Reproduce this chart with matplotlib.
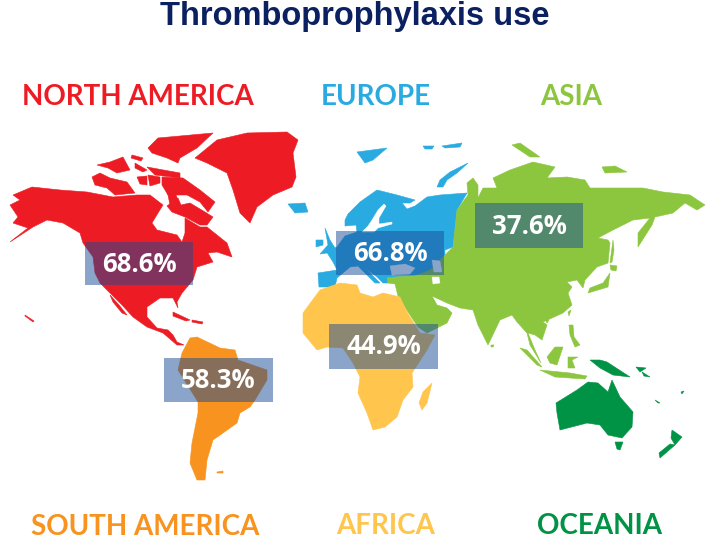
import matplotlib
matplotlib.use("Agg")
import matplotlib.pyplot as plt
from matplotlib.patches import Polygon, Rectangle

title = "Thromboprophylaxis use"
region_names = ["NORTH AMERICA", "EUROPE", "ASIA", "SOUTH AMERICA", "AFRICA", "OCEANIA"]
region_colors = ["#ED1C24", "#29ABE2", "#8CC63F", "#F7931E", "#FFC54D", "#009245"]
region_label_xy = [(138, 105), (376, 105), (571, 105), (145, 535), (386, 534), (599, 534)]
percent_labels = ["68.6%", "66.8%", "37.6%", "58.3%", "44.9%"]
percent_boxes = [(85, 242, 108, 43), (336, 231, 108, 44), (475, 203, 108, 45), (164, 358, 109, 44), (329, 324, 109, 45)]

north_america = [
    [(32,187),(60,190),(87,192),(113,197),(137,195),(150,195),(163,205),(158,213),(152,223),(157,230),(177,235),(182,242),(185,233),(185,218),
     (200,227),(207,227),(227,243),(232,257),(217,252),(208,253),(213,262),(197,267),(193,280),(182,293),(177,302),(178,308),(173,298),
     (160,298),(147,307),(147,317),(157,328),(168,330),(173,335),(177,342),(184,345),(177,345),(163,333),(147,327),(133,317),(122,305),
     (110,293),(100,283),(95,273),(93,257),(83,243),(80,233),(63,223),(47,220),(33,227),(10,242),(28,228),(13,223),(18,217),(10,205),(20,200),(13,195)],
    [(167,206),(178,198),(181,205),(190,203),(205,212),(213,217),(207,225),(200,225),(185,217),(172,212)],
    [(195,158),(217,140),(247,133),(287,132),(298,140),(293,153),(296,177),(292,187),(273,195),(257,207),(250,223),(240,213),(233,190),(227,173),(207,163)],
    [(162,177),(183,178),(200,190),(215,202),(208,212),(200,202),(187,195),(168,195),(162,185)],
    [(158,138),(213,133),(197,148),(180,158),(178,163),(167,158),(152,153),(148,148)],
    [(92,177),(100,173),(110,178),(127,182),(135,193),(115,195),(107,188),(95,185)],
    [(97,165),(110,162),(123,157),(130,170),(117,173),(108,168)],
    [(132,155),(143,158),(141,161),(131,158)],
    [(135,163),(147,170),(143,172),(135,168)],
    [(147,167),(180,173),(180,178),(155,175)],
    [(137,177),(147,176),(147,185),(140,184)],
    [(148,175),(160,177),(160,183),(150,186)],
    [(167,190),(174,190),(178,200),(170,205)],
    [(110,295),(119,305),(127,315),(122,313),(113,302)],
    [(173,312),(190,320),(186,321),(173,316)],
    [(192,320),(203,322),(202,324),(192,322)],
    [(25,315),(34,321),(33,322),(25,316)],
]
south_america = [
    [(190,338),(197,337),(220,348),(235,350),(238,360),(267,370),(267,380),(255,400),(250,407),(240,413),(237,423),(223,433),(213,440),
     (207,460),(205,480),(197,480),(190,463),(192,443),(198,413),(198,402),(178,370),(182,353)],
    [(217,472),(223,471),(223,473),(217,473)],
]
europe = [
    [(319,287),(318,273),(337,270),(333,262),(326,251),(337,247),(345,236),(357,232),(356,225),(345,226),(345,220),(348,214),(360,202),
     (377,190),(397,195),(415,200),(410,203),(402,203),(407,209),(415,206),(427,197),(440,195),(467,193),(457,210),(453,247),(445,250),
     (445,275),(415,276),(395,277),(388,283),(383,283),(377,277),(365,268),(380,283),(375,283),(358,266),(350,267),(337,278),(335,287)],
    [(288,204),(305,203),(308,212),(295,213)],
    [(325,228),(330,240),(335,248),(334,252),(320,254),(328,245)],
    [(316,240),(323,240),(323,245),(316,247)],
    [(357,152),(387,148),(373,160),(365,163)],
    [(468,163),(450,172),(440,180),(437,187),(443,187),(447,180),(457,173)],
    [(423,146),(434,146),(432,149),(425,149)],[(442,146),(462,143),(460,147),(445,148)],
]
asia = [
    [(468,195),(467,183),(473,178),(478,185),(478,198),(483,188),(497,188),(493,178),(510,170),(533,162),(555,167),(547,178),(567,177),
     (585,180),(590,188),(623,188),(643,188),(663,192),(690,195),(705,205),(697,210),(685,203),(673,213),(655,217),(652,225),(638,247),(638,233),
     (650,218),(633,220),(613,230),(598,238),(608,240),(610,243),(608,263),(597,267),(585,280),(583,288),(577,280),(567,282),(572,287),(568,293),
     (572,305),(563,313),(543,322),(547,325),(542,340),(535,335),(528,333),(535,350),(541,363),(530,345),(527,333),(517,322),(512,315),(500,320),(488,345),
     (478,325),(473,310),(460,308),(447,303),(432,296),(437,305),(447,308),(452,313),(447,323),(427,333),(418,327),(408,312),(398,296),(395,284),
     (388,283),(387,278),(395,277),(415,276),(430,270),(445,255),(453,247),(457,210)],
    [(520,348),(527,350),(542,367),(537,365)],
    [(540,370),(570,373),(587,376),(585,379),(555,377)],
    [(547,357),(555,347),(563,347),(557,365),(550,363)],
    [(568,357),(578,357),(572,360),(575,368),(568,368)],
    [(569,325),(573,325),(574,337),(580,345),(575,347),(570,335)],
    [(491,345),(494,345),(493,347),(491,347)],
    [(610,273),(608,287),(588,293),(590,288),(603,283)],
    [(610,265),(617,266),(616,271),(611,270)],
    [(613,240),(614,250),(612,262),(610,263)],
    [(512,145),(520,143),(540,157),(530,157)],
    [(602,167),(615,166),(627,172),(605,173)],
    [(571,310),(569,316),(568,312)],
    [(545,319),(549,320),(547,323)],
]
africa = [
    [(303,313),(320,290),(340,283),(357,285),(360,293),(373,297),(383,293),(400,297),(407,312),(420,333),(435,335),(427,350),(412,373),
     (413,387),(403,400),(397,417),(385,427),(373,430),(367,413),(358,393),(360,377),(353,363),(343,348),(327,347),(317,350),(303,333)],
    [(432,383),(427,403),(422,410),(419,403),(423,392)],
]
oceania = [
    [(556,403),(577,390),(588,382),(598,383),(608,392),(612,380),(620,397),(633,412),(632,427),(622,438),(608,435),(600,425),(587,423),(560,430),(557,413)],
    [(615,442),(623,442),(620,450),(617,449)],
    [(590,360),(600,360),(607,362),(630,377),(613,375),(600,368)],
    [(672,430),(682,437),(675,445),(671,438)],
    [(675,445),(660,458),(659,453),(670,444)],
    [(655,400),(660,403),(658,403)],[(681,392),(684,391),(682,394)],
    [(636,367),(646,368),(640,372)],[(642,372),(650,377),(644,376)],
]
seas = [
    [(384,204),(386,206),(379,218),(379,224),(392,222),(392,224),(378,228),(374,232),(362,232),(368,226),(372,220),(378,210)],
    [(390,266),(405,264),(415,268),(410,274),(392,275)],
    [(432,260),(440,261),(442,272),(434,272)],
    [(432,277),(439,277),(440,283),(433,284)],
]
percent_font = "Open Sans"

fig = plt.figure(figsize=(7.09, 5.40), dpi=100)
ax = fig.add_axes([0, 0, 1, 1])
ax.set_xlim(0, 709)
ax.set_ylim(540, 0)
ax.axis("off")

continents = [north_america, europe, asia, south_america, africa, oceania]
for shapes, color in zip(continents, region_colors):
    for pts in shapes:
        ax.add_patch(Polygon(pts, closed=True, fc=color, ec=color, lw=0.4, zorder=2))
for pts in seas:
    ax.add_patch(Polygon(pts, closed=True, fc="white", ec="white", lw=0.3, zorder=3))

for (x, y, w, h), lab in zip(percent_boxes, percent_labels):
    ax.add_patch(Rectangle((x, y), w, h, fc="#194B97", ec="none", alpha=0.5, zorder=4))
    ax.text(x + w / 2, y + h / 2 + 0.5, lab, color="white", fontsize=18.5, fontweight="bold",
            family=percent_font, ha="center", va="center", zorder=5)

for (x, y), name, color in zip(region_label_xy, region_names, region_colors):
    ax.text(x, y, name, color=color, fontsize=20, fontweight="bold", family="Lato",
            ha="center", va="baseline", zorder=5)

ax.text(355, 25, title, color="#0A2060", fontsize=23.5, fontweight="bold", family="Liberation Sans",
        ha="center", va="baseline", zorder=5)

fig.savefig("out.png", dpi=100)
